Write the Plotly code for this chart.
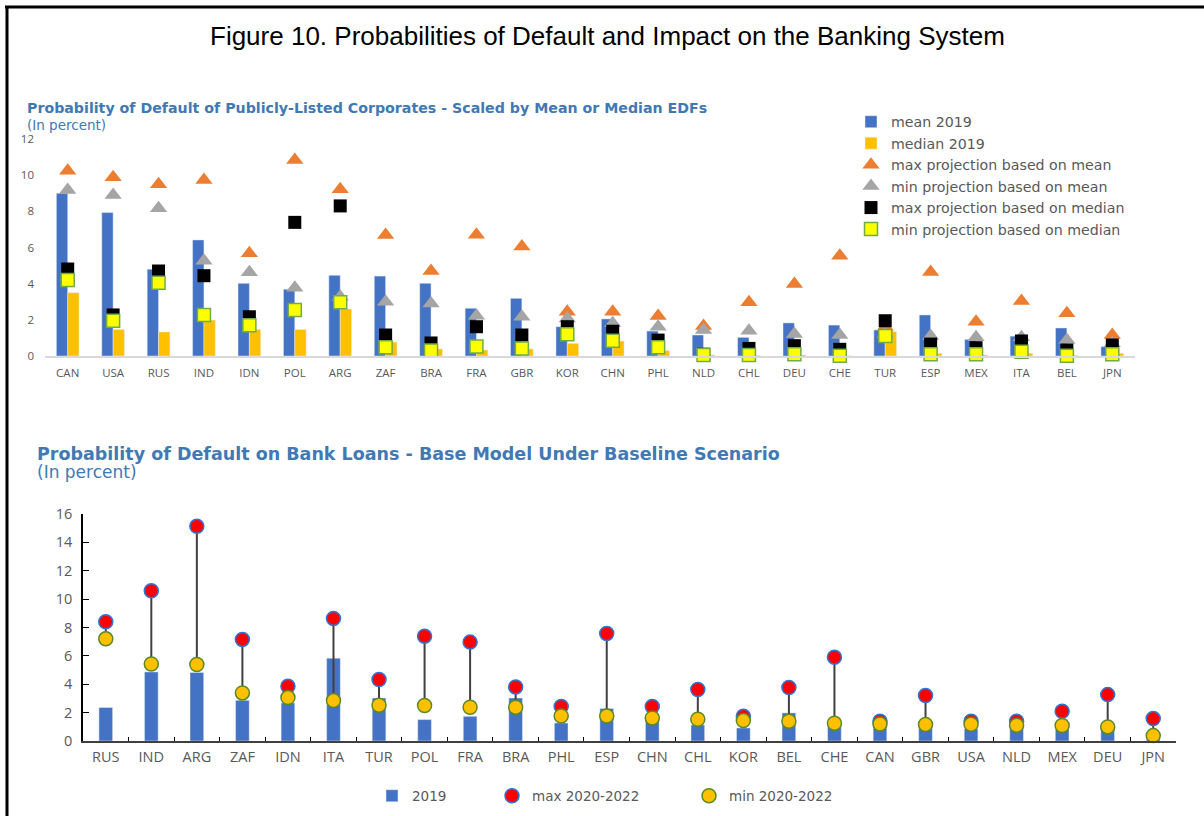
import plotly.graph_objects as go

W, H = 1204, 816

# ---- top panel: corporate PDs ----
top_countries = ["CAN", "USA", "RUS", "IND", "IDN", "POL", "ARG", "ZAF", "BRA", "FRA", "GBR", "KOR",
                 "CHN", "PHL", "NLD", "CHL", "DEU", "CHE", "TUR", "ESP", "MEX", "ITA", "BEL", "JPN"]
mean_2019 = [9.0, 7.93, 4.8, 6.42, 4.02, 3.69, 4.46, 4.42, 4.02, 2.64, 3.19, 1.62,
             2.05, 1.38, 1.16, 1.03, 1.83, 1.71, 1.44, 2.27, 0.92, 1.1, 1.55, 0.52]
median_2019 = [3.5, 1.47, 1.33, 1.99, 1.47, 1.47, 2.6, 0.77, 0.39, 0.33, 0.39, 0.7,
               0.83, 0.3, 0.06, 0.03, 0.06, 0.02, 1.35, 0.15, 0.06, 0.15, 0.03, 0.15]
max_proj_mean = [10.25, 9.88, 9.5, 9.73, 5.68, 10.84, 9.22, 6.69, 4.7, 6.71, 6.05, 2.45,
                 2.45, 2.21, 1.66, 2.97, 3.98, 5.55, 1.6, 4.65, 1.9, 3.04, 2.36, 1.16]
min_proj_mean = [9.18, 8.9, 8.17, 5.27, 4.63, 3.78, 3.28, 3.0, 2.91, 2.23, 2.17, 2.08,
                 1.81, 1.62, 1.44, 1.4, 1.22, 1.16, 1.2, 1.1, 1.03, 1.03, 0.88, 0.7]
max_proj_median = [4.81, 2.27, 4.7, 4.44, 2.17, 7.39, 8.3, 1.16, 0.72, 1.62, 1.16, 1.62,
                   1.37, 0.88, 0.1, 0.42, 0.57, 0.37, 1.95, 0.66, 0.46, 0.83, 0.33, 0.61]
min_proj_median = [4.2, 1.95, 4.05, 2.27, 1.7, 2.54, 2.97, 0.48, 0.3, 0.52, 0.41, 1.2,
                   0.85, 0.48, 0.06, 0.06, 0.09, 0.02, 1.1, 0.09, 0.09, 0.24, 0.02, 0.09]

# ---- bottom panel: bank loan PDs ----
bank_countries = ["RUS", "IND", "ARG", "ZAF", "IDN", "ITA", "TUR", "POL", "FRA", "BRA", "PHL", "ESP",
                  "CHN", "CHL", "KOR", "BEL", "CHE", "CAN", "GBR", "USA", "NLD", "MEX", "DEU", "JPN"]
pd_2019 = [2.36, 4.87, 4.83, 2.87, 2.68, 5.84, 3.03, 1.51, 1.74, 3.03, 1.27, 2.29,
           1.69, 1.13, 0.92, 1.98, 1.23, 1.04, 1.25, 0.85, 1.28, 1.11, 1.16, 0.55]
max_2020_2022 = [8.4, 10.59, 15.13, 7.16, 3.86, 8.64, 4.33, 7.39, 6.97, 3.81, 2.43, 7.58,
                 2.43, 3.63, 1.74, 3.77, 5.91, 1.39, 3.2, 1.39, 1.39, 2.1, 3.27, 1.58]
min_2020_2022 = [7.2, 5.43, 5.39, 3.39, 3.06, 2.85, 2.52, 2.5, 2.38, 2.38, 1.76, 1.76,
                 1.62, 1.53, 1.44, 1.39, 1.25, 1.2, 1.16, 1.18, 1.11, 1.09, 0.99, 0.38]

BLUE = "#4472C4"
GOLD = "#FFC000"
ORANGE = "#ED7D31"
GREY = "#A5A5A5"
TITLE_BLUE = "#4179B4"
TICK_GREY = "#595959"


def px_x(v):
    return v / W


def px_y(v):
    return (H - v) / H


fig = go.Figure()

# top panel traces
fig.add_trace(go.Bar(x=top_countries, y=mean_2019, name="mean 2019", marker_color=BLUE,
                     width=0.25, offset=-0.25, xaxis="x", yaxis="y", legend="legend"))
fig.add_trace(go.Bar(x=top_countries, y=median_2019, name="median 2019", marker_color=GOLD,
                     width=0.25, offset=0, xaxis="x", yaxis="y", legend="legend"))
fig.add_trace(go.Scatter(x=top_countries, y=max_proj_mean, name="max projection based on mean",
                         mode="markers", marker=dict(symbol="triangle-up", size=15, color=ORANGE),
                         xaxis="x", yaxis="y", cliponaxis=False, legend="legend"))
fig.add_trace(go.Scatter(x=top_countries, y=min_proj_mean, name="min projection based on mean",
                         mode="markers", marker=dict(symbol="triangle-up", size=15, color=GREY),
                         xaxis="x", yaxis="y", cliponaxis=False, legend="legend"))
fig.add_trace(go.Scatter(x=top_countries, y=max_proj_median, name="max projection based on median",
                         mode="markers", marker=dict(symbol="square", size=13, color="#000000"),
                         xaxis="x", yaxis="y", cliponaxis=False, legend="legend"))
fig.add_trace(go.Scatter(x=top_countries, y=min_proj_median, name="min projection based on median",
                         mode="markers",
                         marker=dict(symbol="square", size=13, color="#FFFF00",
                                     line=dict(color="#70AD47", width=1.5)),
                         xaxis="x", yaxis="y", cliponaxis=False, legend="legend"))

# bottom panel traces
fig.add_trace(go.Bar(x=bank_countries, y=pd_2019, name="2019", marker_color=BLUE, width=0.3,
                     xaxis="x2", yaxis="y2", legend="legend2"))

seg_x, seg_y = [], []
for c, lo, hi in zip(bank_countries, min_2020_2022, max_2020_2022):
    seg_x += [c, c, None]
    seg_y += [lo, hi, None]
fig.add_trace(go.Scatter(x=seg_x, y=seg_y, mode="lines", line=dict(color="#404040", width=2),
                         showlegend=False, hoverinfo="skip", xaxis="x2", yaxis="y2"))
fig.add_trace(go.Scatter(x=bank_countries, y=max_2020_2022, name="max 2020-2022", mode="markers",
                         marker=dict(symbol="circle", size=14, color="#FF0000",
                                     line=dict(color="#2E75D6", width=1.5)),
                         xaxis="x2", yaxis="y2", cliponaxis=False, legend="legend3"))
fig.add_trace(go.Scatter(x=bank_countries, y=min_2020_2022, name="min 2020-2022", mode="markers",
                         marker=dict(symbol="circle", size=14, color=GOLD,
                                     line=dict(color="#5B8A23", width=1.5)),
                         xaxis="x2", yaxis="y2", cliponaxis=False, legend="legend4"))

tick_font_top = dict(family="Open Sans", size=11.5, color=TICK_GREY)
tick_font_bot = dict(family="Open Sans", size=14.5, color=TICK_GREY)
leg_font_top = dict(family="DejaVu Sans", size=14.2, color=TICK_GREY)
leg_font_bot = dict(family="DejaVu Sans", size=13.5, color=TICK_GREY)

n = len(top_countries)
fig.update_layout(
    width=W, height=H,
    margin=dict(l=0, r=0, t=0, b=0, autoexpand=False),
    paper_bgcolor="white", plot_bgcolor="white",
    barmode="overlay",
    xaxis=dict(domain=[px_x(45), px_x(1135)], anchor="y", type="category",
               range=[-0.5, n - 0.5], automargin=False, ticklabelstandoff=5,
               showline=True, linecolor="#D9D9D9", linewidth=1.5, ticks="",
               showgrid=False, tickfont=tick_font_top, zeroline=False),
    yaxis=dict(domain=[px_y(356), px_y(139)], anchor="x", range=[0, 12], dtick=2,
               showgrid=False, zeroline=False, showline=False, ticks="", automargin=False,
               tickfont=tick_font_top, ticklabelstandoff=10),
    xaxis2=dict(domain=[px_x(83), px_x(1176)], anchor="y2", type="category",
                range=[-0.5, len(bank_countries) - 0.5], automargin=False, ticklabelstandoff=2,
                showline=True, linecolor="#404040", linewidth=1.5, ticks="inside",
                tickson="boundaries", ticklen=4, tickcolor="#000000", tickwidth=1,
                showgrid=False, tickfont=tick_font_bot, zeroline=False),
    yaxis2=dict(domain=[px_y(741), px_y(514)], anchor="x2", range=[0, 16], dtick=2,
                showgrid=False, zeroline=False, showline=True, linecolor="#000000",
                linewidth=1.5, ticks="inside", ticklen=6, tickcolor="#000000",
                tickfont=tick_font_bot, ticklabelstandoff=6, automargin=False),
    legend=dict(x=px_x(851), y=px_y(106), xanchor="left", yanchor="top",
                font=leg_font_top, bgcolor="rgba(0,0,0,0)", traceorder="normal"),
    legend2=dict(x=px_x(372), y=px_y(796), xanchor="left", yanchor="middle",
                 font=leg_font_bot, bgcolor="rgba(0,0,0,0)"),
    legend3=dict(x=px_x(492), y=px_y(796), xanchor="left", yanchor="middle",
                 font=leg_font_bot, bgcolor="rgba(0,0,0,0)"),
    legend4=dict(x=px_x(689), y=px_y(796), xanchor="left", yanchor="middle",
                 font=leg_font_bot, bgcolor="rgba(0,0,0,0)"),
    showlegend=True,
)

annotations = [
    dict(text="Figure 10. Probabilities of Default and Impact on the Banking System",
         x=px_x(607), y=px_y(36), xanchor="center", yanchor="middle",
         font=dict(family="Liberation Sans, Arial", size=26, color="#000000")),
    dict(text="<b>Probability of Default of Publicly-Listed Corporates - Scaled by Mean or Median EDFs</b>",
         x=px_x(25), y=px_y(108), xanchor="left", yanchor="middle",
         font=dict(family="DejaVu Sans", size=14.2, color=TITLE_BLUE)),
    dict(text="(In percent)", x=px_x(25), y=px_y(125), xanchor="left", yanchor="middle",
         font=dict(family="DejaVu Sans", size=13.5, color=TITLE_BLUE)),
    dict(text="<b>Probability of Default on Bank Loans - Base Model Under Baseline Scenario</b>",
         x=px_x(35), y=px_y(454), xanchor="left", yanchor="middle",
         font=dict(family="DejaVu Sans", size=17.5, color=TITLE_BLUE)),
    dict(text="(In percent)", x=px_x(35), y=px_y(472), xanchor="left", yanchor="middle",
         font=dict(family="DejaVu Sans", size=17, color=TITLE_BLUE)),
]
for a in annotations:
    a.update(xref="paper", yref="paper", showarrow=False)
fig.update_layout(annotations=annotations)

# frame: top and left border
fig.update_layout(shapes=[
    dict(type="line", xref="paper", yref="paper", x0=px_x(5), x1=1, y0=px_y(7), y1=px_y(7),
         line=dict(color="#000000", width=3)),
    dict(type="line", xref="paper", yref="paper", x0=px_x(7), x1=px_x(7), y0=px_y(6), y1=0,
         line=dict(color="#000000", width=3)),
])

pin_page = ("document.body.style.margin='0px';"
            "document.body.style.overflow='hidden';"
            "var gd=document.getElementById('{plot_id}');"
            "gd.style.position='fixed';gd.style.top='0px';gd.style.left='0px';")
fig.write_html("out.html", config={"displayModeBar": False}, post_script=pin_page)
